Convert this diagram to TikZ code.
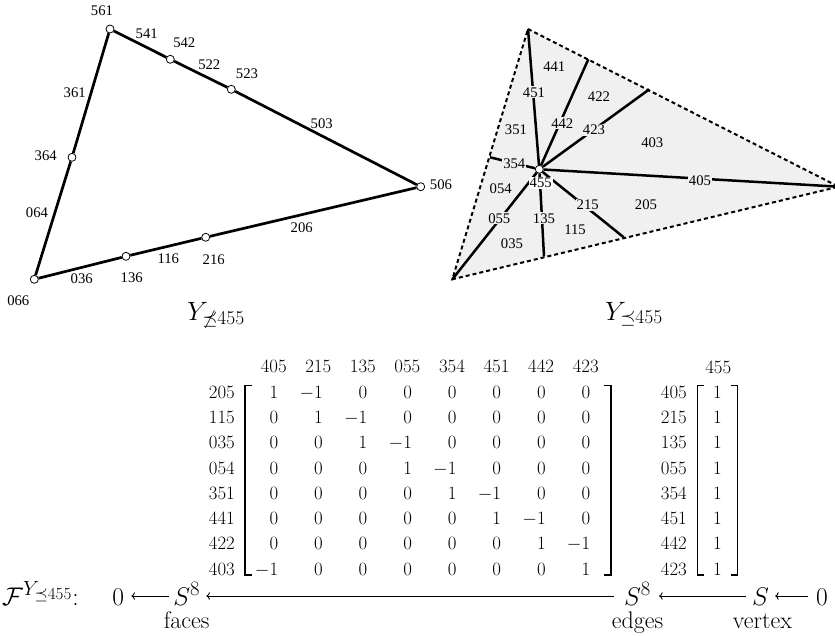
\RequirePackage{fix-cm}
\documentclass[tikz,border=0pt]{standalone}
\usepackage{fontspec}
\newfontfamily\labfont{Liberation Serif}
\usetikzlibrary{arrows.meta}
\DeclareMathSizes{25.5}{25.5}{20.5}{17}
\DeclareMathSizes{26.5}{26.5}{19.5}{15}
\tikzset{
  tri/.style={line width=2.7pt},
  vtx/.style={circle, draw, fill=white, line width=0.8pt, inner sep=0pt, minimum size=8pt},
  lab/.style={font=\labfont\fontsize{14.7}{16}\selectfont, inner sep=1pt},
  elab/.style={lab, fill=black!6},
  spoke/.style={line width=2.5pt},
  bnd/.style={line width=2pt, dash pattern=on 4pt off 3pt},
  ent/.style={font=\fontsize{18.8}{22}\selectfont, inner sep=0pt, anchor=base east},
  brk/.style={line width=1.1pt},
  big/.style={font=\fontsize{25.5}{30}\selectfont, inner sep=0pt, anchor=base},
  ylab/.style={font=\fontsize{26.5}{30}\selectfont, inner sep=0pt, anchor=base},
  word/.style={font=\fontsize{24}{28}\selectfont, inner sep=0pt, anchor=base},
  arr/.style={<-, >={Computer Modern Rightarrow}, line width=0.9pt},
}
\begin{document}
\begin{tikzpicture}[x=1pt, y=-1pt]
\useasboundingbox (0,0) rectangle (835,635);
\clip (0,0) rectangle (835,635);
% ---------- left triangle ----------
\node[vtx] (v561) at (110,29) {};
\node[vtx] (v542) at (170.3,59.3) {};
\node[vtx] (v523) at (231.3,89.3) {};
\node[vtx] (v506) at (420.7,186.7) {};
\node[vtx] (v216) at (205.7,237.3) {};
\node[vtx] (v136) at (126,256.3) {};
\node[vtx] (v066) at (34.3,279.3) {};
\node[vtx] (v364) at (72,157.3) {};
\draw[tri] (v561) -- (v542);
\draw[tri] (v542) -- (v523);
\draw[tri] (v523) -- (v506);
\draw[tri] (v506) -- (v216);
\draw[tri] (v216) -- (v136);
\draw[tri] (v136) -- (v066);
\draw[tri] (v066) -- (v364);
\draw[tri] (v364) -- (v561);
\node[lab] (l561) at (102,10.7) {561};
\node[lab] (l541) at (146.7,33.3) {541};
\node[lab] (l542) at (184.3,42.3) {542};
\node[lab] (l522) at (209.3,65) {522};
\node[lab] (l523) at (247,73.3) {523};
\node[lab] (l503) at (321.7,123.3) {503};
\node[lab] (l506) at (441,185) {506};
\node[lab] (l361) at (74.7,92.3) {361};
\node[lab] (l364) at (45.7,155.7) {364};
\node[lab] (l064) at (37,212.3) {064};
\node[lab] (l206) at (301.7,227.3) {206};
\node[lab] (l216) at (213.7,260) {216};
\node[lab] (l116) at (168.3,258.3) {116};
\node[lab] (l136) at (131.7,277.3) {136};
\node[lab] (l036) at (81.7,279) {036};
\node[lab] (l066) at (18.3,300.7) {066};
\node[ylab] (yl) at (216,320) {$Y_{\not\preceq 455}$};
% ---------- right triangle ----------
\coordinate (r561) at (528,29);
\coordinate (r542) at (588.3,59.3);
\coordinate (r523) at (649.3,89.3);
\coordinate (r506) at (838.7,186.7);
\coordinate (r216) at (623.7,237.3);
\coordinate (r136) at (544,256.3);
\coordinate (r066) at (452.3,279.3);
\coordinate (r364) at (490,157.3);
\fill[black!6] (r561) -- (r506) -- (r066) -- cycle;
\node[vtx] (c455) at (539.3,169.3) {};
\foreach \t in {r561,r542,r523,r506,r216,r136,r066,r364}
  \draw[spoke] (c455) -- (\t);
\draw[bnd] (r561) -- (r506) -- (r066) -- cycle;
\node[lab] (t441) at (554.3,66.7) {441};
\node[elab] (t451) at (534,92.3) {451};
\node[lab] (t422) at (599,96.7) {422};
\node[elab] (t442) at (562.3,123.3) {442};
\node[elab] (t423) at (594,130) {423};
\node[lab] (t351) at (516,130) {351};
\node[lab] (t403) at (652.3,142.3) {403};
\node[elab] (t354) at (514.3,163.3) {354};
\node[lab, fill=white] (t455) at (540.7,182.7) {455};
\node[lab] (t054) at (500.7,188.3) {054};
\node[elab] (t405) at (700,180.7) {405};
\node[elab] (t215) at (587.7,205) {215};
\node[lab] (t205) at (646,205) {205};
\node[elab] (t055) at (499.3,218.3) {055};
\node[elab] (t135) at (544,218.3) {135};
\node[lab] (t115) at (575,230) {115};
\node[lab] (t035) at (512,243.3) {035};
\node[ylab] (yr) at (634,320) {$Y_{\preceq 455}$};
% ---------- matrix ----------
\foreach \h [count=\i from 0] in {405,215,135,055,354,451,442,423}
  \node[ent, anchor=base] (h\i) at ({273.7+44.57*\i},372.7) {\h};
\foreach \l [count=\r from 0] in {205,115,035,054,351,441,422,403}
  \node[ent] (rl\r) at (235,{398.3+25.28*\r}) {\l};
\foreach \r in {0,...,7}{
  \foreach \c in {0,...,7}{
    \pgfmathtruncatemacro\nx{mod(\r+1,8)}
    \ifnum\c=\r \def\v{1}\else\ifnum\c=\nx \def\v{-1}\else\def\v{0}\fi\fi
    \node[ent] (m\r\c) at ({278.4+44.57*\c},{398.3+25.28*\r}) {$\v$};
  }
}
\draw[brk] (251.7,385.7) -- (245,385.7) -- (245,575) -- (251.7,575);
\draw[brk] (604.3,385.7) -- (611,385.7) -- (611,575) -- (604.3,575);
\node[ent, anchor=base] (hv) at (718.3,373.3) {455};
\foreach \l [count=\r from 0] in {405,215,135,055,354,451,442,423}{
  \node[ent] (vl\r) at (687,{398.3+25.28*\r}) {\l};
  \node[ent] (v\r) at (722,{398.3+25.28*\r}) {$1$};
}
\draw[brk] (704.4,385.7) -- (697.7,385.7) -- (697.7,575) -- (704.4,575);
\draw[brk] (731,385.7) -- (737.7,385.7) -- (737.7,575) -- (731,575);
% ---------- sequence ----------
\node[big, anchor=base west] (F) at (2,605) {$\mathcal{F}^{Y_{\preceq 455}}\colon$};
\node[big] (z1) at (118.3,605) {$0$};
\node[big] (s1) at (186.7,605) {$S^8$};
\node[big] (s2) at (637.5,605) {$S^8$};
\node[big] (s3) at (760.5,605) {$S$};
\node[big] (z2) at (822,605) {$0$};
\draw[arr, shorten <=7pt, shorten >=4.5pt] (z1.east |- 0,596) -- (s1.west |- 0,596);
\draw[arr, shorten <=6pt, shorten >=10pt] (s1.east |- 0,596) -- (s2.west |- 0,596);
\draw[arr, shorten <=8pt, shorten >=6pt] (s2.east |- 0,596) -- (s3.west |- 0,596);
\draw[arr, shorten <=6pt, shorten >=8pt] (s3.east |- 0,596) -- (z2.west |- 0,596);
\node[word] (fc) at (186.7,628) {faces};
\node[word] (ed) at (637.5,628) {edges};
\node[word] (vx) at (762.5,628) {vertex};
\end{tikzpicture}
\end{document}
